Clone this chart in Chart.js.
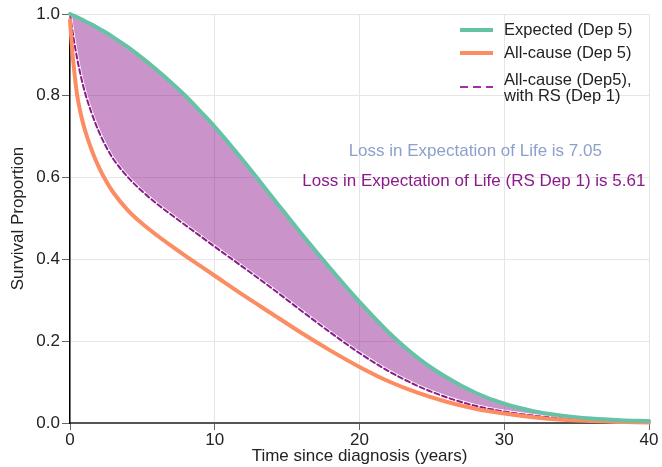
<!DOCTYPE html>
<html>
<head>
<meta charset="utf-8">
<script src="https://cdn.jsdelivr.net/npm/chart.js@4"></script>
<style>
  html, body { margin: 0; padding: 0; background: #fff; }
  #wrap { width: 662px; height: 467px; }
</style>
</head>
<body>
<div id="wrap"><canvas id="c" width="662" height="467"></canvas></div>
<script>
// Time since diagnosis (years)
const years = [0, 0.1, 0.25, 0.5, 0.75, 1, 1.5, 2, 2.5, 3, 4, 5, 6, 7, 8, 9, 10,
               12, 14, 16, 18, 20, 22, 24, 26, 28, 30, 32, 34, 36, 38, 40];

// Expected survival, deprivation group 5
const expectedDep5 = [1.0, 0.998, 0.996, 0.992, 0.988, 0.983, 0.974, 0.964, 0.954, 0.943, 0.919, 0.892,
                      0.863, 0.832, 0.799, 0.762, 0.724, 0.640, 0.551, 0.462, 0.377, 0.296, 0.222,
                      0.160, 0.112, 0.074, 0.047, 0.029, 0.018, 0.011, 0.007, 0.005];

// All-cause survival, deprivation group 5
const allCauseDep5 = [0.985, 0.935, 0.875, 0.80, 0.755, 0.72, 0.667, 0.625, 0.591, 0.563, 0.52, 0.487,
                      0.459, 0.433, 0.408, 0.384, 0.36, 0.312, 0.266, 0.22, 0.177, 0.137, 0.102,
                      0.074, 0.052, 0.035, 0.023, 0.014, 0.008, 0.005, 0.003, 0.001];

// All-cause survival (Dep 5) using relative survival of Dep 1
const allCauseDep5RS = [1.0, 0.975, 0.94, 0.89, 0.848, 0.812, 0.757, 0.712, 0.675, 0.645, 0.601, 0.566,
                        0.536, 0.509, 0.483, 0.457, 0.431, 0.38, 0.328, 0.274, 0.221, 0.171, 0.127,
                        0.091, 0.063, 0.042, 0.028, 0.018, 0.011, 0.006, 0.003, 0.001];

const xTicks = [0, 10, 20, 30, 40];
const yTicks = [0, 0.2, 0.4, 0.6, 0.8, 1.0];

const lossExpected = 7.05;
const lossRS = 5.61;

const FONT = "'Liberation Sans', Arial, sans-serif";
const TEXT = '#222';
const GREEN = '#66c2a5';
const ORANGE = '#fc8d62';
const PURPLE = '#8b1a8b';

const pts = arr => years.map((t, i) => ({ x: t, y: arr[i] }));

// Legend and loss labels drawn inside the plot area
const overlay = {
  id: 'overlay',
  afterDatasetsDraw(chart) {
    const ctx = chart.ctx;
    const area = chart.chartArea;
    const sx = chart.scales.x, sy = chart.scales.y;
    ctx.save();
    ctx.textBaseline = 'middle';

    // legend
    const lx0 = area.right - 189, lx1 = area.right - 156, tx = area.right - 145;
    ctx.font = '16.5px ' + FONT;
    ctx.textAlign = 'left';
    ctx.lineCap = 'butt';

    ctx.strokeStyle = GREEN; ctx.lineWidth = 4; ctx.setLineDash([]);
    ctx.beginPath(); ctx.moveTo(lx0, 30); ctx.lineTo(lx1, 30); ctx.stroke();
    ctx.fillStyle = TEXT; ctx.fillText('Expected (Dep 5)', tx, 30);

    ctx.strokeStyle = ORANGE; ctx.lineWidth = 4;
    ctx.beginPath(); ctx.moveTo(lx0, 53); ctx.lineTo(lx1, 53); ctx.stroke();
    ctx.fillText('All-cause (Dep 5)', tx, 53);

    ctx.strokeStyle = '#a52aad'; ctx.lineWidth = 2; ctx.setLineDash([8, 5]);
    ctx.beginPath(); ctx.moveTo(lx0, 87); ctx.lineTo(lx1, 87); ctx.stroke();
    ctx.setLineDash([]);
    ctx.fillText('All-cause (Dep5),', tx, 80);
    ctx.fillText('with RS (Dep 1)', tx, 96);

    // loss in expectation of life labels
    ctx.font = '17px ' + FONT;
    ctx.textAlign = 'center';
    ctx.fillStyle = '#8da0cb';
    ctx.fillText('Loss in Expectation of Life is ' + lossExpected.toFixed(2),
                 sx.getPixelForValue(28), sy.getPixelForValue(0.665));
    ctx.fillStyle = PURPLE;
    ctx.fillText('Loss in Expectation of Life (RS Dep 1) is ' + lossRS.toFixed(2),
                 sx.getPixelForValue(27.9), sy.getPixelForValue(0.59));
    ctx.restore();
  }
};

new Chart(document.getElementById('c'), {
  type: 'line',
  data: {
    datasets: [
      {
        label: 'Expected (Dep 5)',
        data: pts(expectedDep5),
        borderColor: GREEN,
        borderWidth: 4,
        backgroundColor: 'rgba(128,0,128,0.42)',
        fill: 2,
        order: 0,
        clip: false
      },
      {
        label: 'All-cause (Dep 5)',
        data: pts(allCauseDep5),
        borderColor: ORANGE,
        borderWidth: 4,
        fill: false,
        order: 1,
        clip: false
      },
      {
        label: 'All-cause (Dep5), with RS (Dep 1)',
        data: pts(allCauseDep5RS),
        borderColor: PURPLE,
        borderWidth: 2,
        borderDash: [5, 3],
        fill: false,
        order: 2,
        clip: false
      },
      {
        label: 'halo',
        data: pts(allCauseDep5RS),
        borderColor: '#ffffff',
        borderWidth: 3.5,
        fill: false,
        order: 3,
        clip: false
      }
    ]
  },
  options: {
    responsive: false,
    animation: false,
    devicePixelRatio: 1,
    layout: { padding: { left: 0, right: 13, top: 14, bottom: 0 } },
    elements: {
      point: { radius: 0, hoverRadius: 0 },
      line: { cubicInterpolationMode: 'monotone', borderCapStyle: 'round' }
    },
    plugins: {
      legend: { display: false },
      tooltip: { enabled: false },
      filler: { drawTime: 'beforeDatasetsDraw' }
    },
    scales: {
      x: {
        type: 'linear',
        min: 0, max: 40,
        afterBuildTicks: s => { s.ticks = xTicks.map(v => ({ value: v })); },
        afterFit: s => { s.height = 44; },
        grid: { color: '#e6e6e6', lineWidth: 1, tickColor: '#666', tickLength: 7 },
        border: { color: '#555', width: 2 },
        ticks: { font: { family: FONT, size: 17 }, color: TEXT, padding: 0, maxRotation: 0 },
        title: { display: true, text: 'Time since diagnosis (years)', color: TEXT,
                 font: { family: FONT, size: 17 }, padding: { top: 0, bottom: 0 } }
      },
      y: {
        type: 'linear',
        min: 0, max: 1,
        afterBuildTicks: s => { s.ticks = yTicks.map(v => ({ value: v })); },
        afterFit: s => { s.width = 70; },
        grid: { color: '#e6e6e6', lineWidth: 1, tickColor: '#666', tickLength: 8 },
        border: { color: '#000', width: 1.5 },
        ticks: { font: { family: FONT, size: 17 }, color: TEXT, padding: 2,
                 callback: v => Number(v).toFixed(1) },
        title: { display: true, text: 'Survival Proportion', color: TEXT,
                 font: { family: FONT, size: 17 }, padding: { top: 8, bottom: 0 } }
      }
    }
  },
  plugins: [overlay]
});
</script>
</body>
</html>
